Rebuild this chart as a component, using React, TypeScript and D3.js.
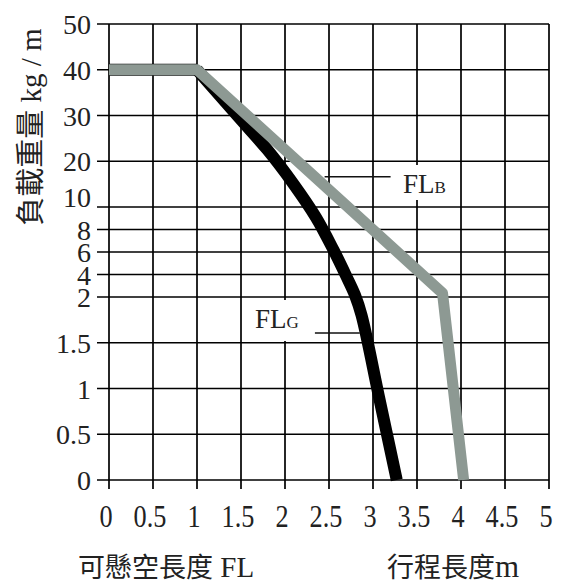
import React from "react";
import * as d3 from "d3";

const xTicks = [0, 0.5, 1, 1.5, 2, 2.5, 3, 3.5, 4, 4.5, 5];
const xTickLabels = ["0", "0.5", "1", "1.5", "2", "2.5", "3", "3.5", "4", "4.5", "5"];
const yTicks = [50, 40, 30, 20, 10, 8, 6, 4, 2, 1.5, 1, 0.5, 0];
const yTickLabels = ["50", "40", "30", "20", "10", "8", "6", "4", "2", "1.5", "1", "0.5", "0"];

// FLG (black) and FLB (grey) curves: [travel length m, load kg/m]
const flgX = [0, 1, 1.47, 1.8, 2.09, 2.35, 2.55, 2.69, 2.795, 2.87, 3.07, 3.27];
const flgY = [40, 40, 29.7, 22.5, 15.2, 9.1, 6.2, 3.96, 2.18, 1.8, 0.9, 0];
const flbX = [0, 1, 3.79, 4.03];
const flbY = [40, 40, 2.35, 0];

const W = 567;
const H = 585;

export default function App() {
  const x = d3.scaleLinear().domain([0, 5]).range([109, 549]);
  const y = d3.scaleLinear().domain([0, 2, 10, 50]).range([480, 297, 207, 24]);

  const line = d3
    .line<[number, number]>()
    .x((d) => x(d[0]))
    .y((d) => y(d[1]));
  const smooth = d3
    .line<[number, number]>()
    .x((d) => x(d[0]))
    .y((d) => y(d[1]))
    .curve(d3.curveCatmullRom.alpha(0.5));

  const flg: [number, number][] = flgX.map((v, i) => [v, flgY[i]]);
  const flb: [number, number][] = flbX.map((v, i) => [v, flbY[i]]);

  const serif = "'Liberation Serif', 'Times New Roman', serif";
  const cjk = "'Noto Sans CJK TC', 'Noto Sans CJK JP', sans-serif";
  const gridColor = "#000";
  const gw = 1.7;

  return (
    <svg
      width={W}
      height={H}
      style={{ position: "absolute", left: 0, top: 0, background: "#fff" }}
    >
      <rect x={0} y={0} width={W} height={H} fill="#fff" />
      {/* horizontal grid */}
      {yTicks.map((t) => (
        <line
          key={"h" + t}
          x1={x(0) - 12}
          x2={x(5)}
          y1={y(t)}
          y2={y(t)}
          stroke={gridColor}
          strokeWidth={gw}
        />
      ))}
      {/* vertical grid */}
      {xTicks.map((t) => (
        <line
          key={"v" + t}
          x1={x(t)}
          x2={x(t)}
          y1={y(50)}
          y2={y(0) + 9}
          stroke={gridColor}
          strokeWidth={gw}
        />
      ))}
      {/* y tick labels */}
      {yTicks.map((t, i) => (
        <text
          key={"yl" + t}
          x={91}
          y={y(t) + 10 + (t === 10 ? -10 : 0)}
          textAnchor="end"
          fontFamily={serif}
          fontSize={28}
          fill="#222"
        >
          {yTickLabels[i]}
        </text>
      ))}
      {/* x tick labels */}
      {xTicks.map((t, i) => (
        <text
          key={"xl" + t}
          transform={`translate(${x(t) - 3},527) scale(0.82,1)`}
          textAnchor="middle"
          fontFamily={serif}
          fontSize={32}
          fill="#222"
        >
          {xTickLabels[i]}
        </text>
      ))}
      {/* curves */}
      <path
        d={line(flg.slice(0, 2)) || ""}
        fill="none"
        stroke="#000"
        strokeWidth={12}
      />
      <path
        d={smooth(flg.slice(1)) || ""}
        fill="none"
        stroke="#000"
        strokeWidth={12}
        strokeLinejoin="round"
      />
      <path
        d={line(flb) || ""}
        fill="none"
        stroke="#8d9993"
        strokeWidth={11}
        strokeLinejoin="round"
      />
      {/* FLB label */}
      <rect x={398} y={165} width={54} height={35} fill="#fff" />
      <line x1={x(2.45)} x2={x(3.2)} y1={y(16.6)} y2={y(16.6)} stroke="#111" strokeWidth={1.6} />
      <text x={x(3.34)} y={y(13.06)} fontFamily={serif} fontSize={27} fill="#222">
        FL<tspan fontSize={17}>B</tspan>
      </text>
      {/* FLG label */}
      <rect x={250} y={300} width={55} height={41} fill="#fff" />
      <line x1={x(2.34)} x2={x(2.85)} y1={y(1.607)} y2={y(1.607)} stroke="#111" strokeWidth={1.6} />
      <text x={x(1.66)} y={y(1.66)} fontFamily={serif} fontSize={27} fill="#222">
        FL<tspan fontSize={17}>G</tspan>
      </text>
      {/* y axis title */}
      <text
        transform={`translate(41,127) rotate(-90)`}
        textAnchor="middle"
        fill="#222"
      >
        <tspan fontFamily={cjk} fontSize={29}>負載重量</tspan>
        <tspan fontFamily={serif} fontSize={29}> kg / m</tspan>
      </text>
      {/* x axis titles */}
      <text x={78} y={577} fontSize={27} fill="#222">
        <tspan fontFamily={cjk}>可懸空長度</tspan>
        <tspan fontFamily={serif} fontSize={29}> FL</tspan>
      </text>
      <text x={387} y={577} fontSize={27} fill="#222">
        <tspan fontFamily={cjk}>行程長度</tspan>
        <tspan fontFamily={serif} fontSize={31}>m</tspan>
      </text>
    </svg>
  );
}
